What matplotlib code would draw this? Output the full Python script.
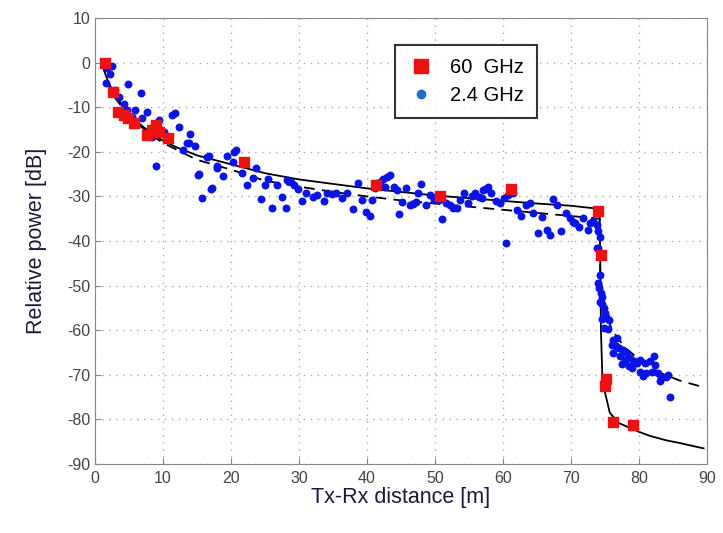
import numpy as np
import matplotlib
matplotlib.use('Agg')
import matplotlib.pyplot as plt
from matplotlib.lines import Line2D

plt.rcParams['font.family'] = ['Liberation Sans', 'DejaVu Sans']
plt.rcParams['axes.unicode_minus'] = False

#60 GHz measured points (red squares)
x60 = [1.5, 2.7, 3.4, 4.2, 4.9, 5.7, 7.6, 8.4, 9.4, 8.9, 10.7, 21.9, 41.3, 50.7, 61.2,
       74.0, 74.4, 75.1, 75.0, 76.2, 79.1]
y60 = [0.0, -6.5, -11.0, -11.7, -12.5, -13.5, -16.2, -15.1, -15.5, -14.0, -17.0, -22.3, -27.4, -30.0, -28.3,
       -33.3, -43.2, -71.0, -72.5, -80.5, -81.2]

#2.4 GHz measured points (blue dots)
x24 = [1.8, 2.5, 1.6, 2.2, 3.0, 3.5, 4.2, 4.7, 4.9, 5.4, 5.9, 6.7, 6.9, 7.6, 8.4, 8.9, 9.4, 10.1,
       11.3, 11.8, 12.4, 12.9, 13.5, 13.8, 14.0, 14.7, 15.2, 15.3, 15.8, 16.4, 16.7, 17.0, 17.2,
       17.9, 18.0, 18.8, 19.4, 20.3, 20.5, 20.7, 21.6, 22.3, 23.2, 23.7, 24.4, 25.0, 25.5, 26.1,
       26.8, 27.5, 28.1, 28.2, 28.8, 29.3, 29.9, 30.5, 31.1, 32.1, 32.7, 33.7, 34.1, 34.8, 35.5,
       36.3, 37.0, 37.9, 38.7, 39.2, 39.9, 40.5, 40.7, 41.2, 41.4, 41.9, 42.4, 42.9, 43.4, 42.6,
       43.9, 44.4, 44.7, 45.2, 45.7, 46.3, 46.7, 47.2, 47.5, 48.0, 48.7, 49.3, 49.9, 50.3, 50.6,
       51.0, 51.6, 52.2, 52.7, 53.3, 53.7, 54.3, 54.9, 55.4, 55.9, 56.5, 56.9, 57.1, 57.4, 57.8,
       58.3, 59.0, 59.6, 60.1, 60.4, 60.8, 61.5, 62.0, 62.7, 63.4, 63.9, 64.4, 65.2, 65.7, 66.4,
       66.9, 67.3, 67.9, 68.5, 69.3, 69.9, 70.3, 70.6, 71.2, 71.8, 72.5, 72.8, 73.3, 73.8, 74.0,
       74.2, 73.8, 74.0,
       74.3, 73.9, 74.1, 74.4, 74.6, 74.2, 74.5, 74.8, 75.0, 75.2, 75.6, 74.6, 74.8, 75.5, 76.2,
       76.8, 76.0, 76.6, 77.1, 77.6, 76.2, 78.2, 77.2, 77.9, 78.7, 79.2, 79.7, 80.1, 80.9, 81.6,
       82.2, 82.4, 80.1, 80.6, 81.1, 81.9, 82.8, 83.3, 84.0, 84.3, 83.1, 84.5, 78.5, 79.0, 77.5]
y24 = [-1.3, -0.8, -4.6, -2.5, -6.2, -7.6, -9.3, -10.6, -4.9, -12.1, -10.6, -6.9, -12.5, -11.1, -16.6, -23.2, -12.9, -15.5,
       -11.7, -11.4, -14.4, -19.7, -18.1, -18.1, -15.9, -18.7, -25.2, -25.0, -30.4, -21.1, -20.9, -28.4, -28.2,
       -23.7, -23.2, -25.4, -20.9, -22.2, -20.0, -19.6, -24.8, -27.4, -25.9, -23.6, -30.6, -27.4, -26.2, -32.7,
       -27.4, -30.2, -32.7, -26.3, -26.7, -27.4, -28.4, -31.0, -29.3, -30.1, -29.6, -31.0, -29.2, -29.5, -29.3,
       -30.4, -29.3, -32.9, -27.1, -30.8, -33.4, -34.4, -30.8, -28.2, -27.1, -26.7, -26.2, -25.6, -25.2, -27.8,
       -27.8, -28.6, -33.9, -31.2, -28.2, -32.0, -31.6, -31.2, -29.3, -27.2, -32.0, -29.7, -30.8, -30.0, -30.8,
       -35.1, -31.4, -32.0, -32.5, -32.7, -30.8, -29.3, -31.5, -29.9, -29.3, -30.1, -30.4, -28.6, -28.4, -27.8,
       -29.3, -31.0, -31.5, -30.4, -40.5, -29.7, -29.3, -33.0, -34.4, -32.0, -31.5, -33.8, -38.1, -34.7, -37.5,
       -38.7, -30.6, -31.9, -37.7, -33.8, -34.9, -35.7, -36.0, -36.8, -34.9, -37.5, -36.0, -35.5, -36.4, -37.7,
       -39.0, -41.6, -41.6,
       -47.6, -49.5, -50.5, -51.7, -52.5, -53.6, -54.2, -55.1, -56.2, -57.0, -57.7, -57.5, -59.6, -59.8, -62.2,
       -61.8, -63.3, -63.6, -64.1, -64.4, -65.2, -65.2, -65.9, -66.7, -66.3, -67.0, -67.4, -66.7, -67.4, -67.0,
       -65.9, -67.8, -69.3, -70.3, -69.7, -69.3, -69.7, -70.8, -70.4, -70.0, -71.5, -74.9, -68.0, -68.5, -67.5]

#Fitted curve for 60 GHz (solid line)
fit60_x = [1.0, 1.5, 2.0, 2.5, 3.0, 4.0, 5.0, 6.0, 7.0, 8.0, 10.0, 12.0, 15.0, 20.0, 25.0, 30.0, 35.0,
           40.0, 45.0, 50.0, 55.0, 60.0, 65.0, 70.0, 74.2, 74.3, 74.4, 74.6, 75.0, 75.7, 77.0, 78.2,
           80.0, 81.6, 84.0, 86.0, 88.0, 89.5]
fit60_y = [0.0, -2.5, -4.5, -6.0, -7.5, -9.5, -11.5, -13.0, -14.3, -15.5, -17.5, -19.0, -20.8, -22.8,
           -24.8, -26.2, -27.2, -28.2, -29.0, -29.8, -30.4, -31.0, -31.6, -32.1, -32.8, -45.0, -60.0,
           -70.0, -74.0, -78.5, -80.8, -81.6, -82.8, -83.7, -84.7, -85.3, -86.0, -86.5]

#Fitted curve for 2.4 GHz (dashed line)
fit24_x = [1.0, 2.0, 3.0, 5.0, 8.0, 10.0, 15.0, 20.0, 25.0, 30.0, 35.0, 40.0, 45.0, 50.0, 55.0, 60.0,
           65.0, 70.0, 74.2, 74.3, 75.0, 76.0, 78.0, 80.0, 83.0, 86.0, 89.5]
fit24_y = [0.0, -4.8, -8.0, -12.0, -16.0, -18.0, -21.8, -24.0, -26.5, -27.8, -29.0, -30.0, -30.9, -31.6,
           -32.3, -33.0, -33.7, -34.4, -35.0, -48.0, -55.0, -60.0, -64.0, -66.5, -69.5, -71.3, -72.8]

fig = plt.figure(figsize=(7.23, 5.33), dpi=100)
ax = fig.add_axes([0.1314, 0.1295, 0.8465, 0.8367])

#Curves first, then markers on top
ax.plot(fit60_x, fit60_y, color='black', linewidth=1.3)
ax.plot(fit24_x, fit24_y, color='black', linewidth=1.3, linestyle=(0, (6, 4)))
ax.scatter(x24, y24, s=22, color='#0a14e6', zorder=3, label='2.4 GHz')
ax.scatter(x60, y60, s=58, marker='s', color='#ee1111', zorder=4, label='60  GHz')

ax.set_xlim(0, 90)
ax.set_ylim(-90, 10)
ax.set_xticks(np.arange(0, 91, 10))
ax.set_yticks(np.arange(-90, 11, 10))
ax.tick_params(direction='in', labelsize=11.5, labelcolor='#444444', color='#888888', length=4)
ax.tick_params(axis='x', pad=5)
ax.grid(True, color='#aaaaaa', linestyle=(0, (1, 4)), linewidth=1)
for sp in ax.spines.values():
    sp.set_color('#888888')

ax.set_xlabel('Tx-Rx distance [m]', fontsize=15.5, color='#1a1a3a', labelpad=1)
ax.set_ylabel('Relative power [dB]', fontsize=15.5, color='#1a1a3a', labelpad=14)

#Legend: build handles so the square is listed first
handles = [Line2D([], [], marker='s', linestyle='none', markersize=10, color='#ee1111'),
           Line2D([], [], marker='o', linestyle='none', markersize=6, color='#1e6ec8')]
leg = ax.legend(handles, ['60  GHz', '2.4 GHz'], loc='upper left', bbox_to_anchor=(0.49, 0.94),
                fontsize=14.5, frameon=True, fancybox=False, handletextpad=0.8, borderpad=0.65,
                labelspacing=0.45, handlelength=1.3, borderaxespad=0)
leg.get_frame().set_edgecolor('black')
leg.get_frame().set_linewidth(1.5)

fig.savefig('out.png', dpi=100)
